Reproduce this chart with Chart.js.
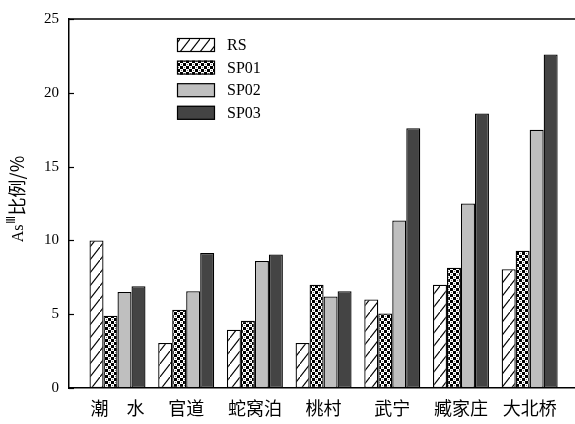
<!DOCTYPE html>
<html>
<head>
<meta charset="utf-8">
<script src="https://cdn.jsdelivr.net/npm/chart.js@4"></script>
<style>
  html, body { margin: 0; padding: 0; background: #fff; }
  #wrap { width: 575px; height: 424px; }
</style>
</head>
<body>
<div id="wrap"><canvas id="c" width="575" height="424"></canvas></div>
<script>
// Sampling sites along the x axis
const categories = ['潮　水', '官道', '蛇窝泊', '桃村', '武宁', '臧家庄', '大北桥'];

// As(III) share (%) per site for each treatment
const seriesNames = ['RS', 'SP01', 'SP02', 'SP03'];
const rsValues   = [10.0, 3.05, 3.95, 3.05, 6.0, 7.0, 8.05];
const sp01Values = [4.9, 5.3, 4.55, 7.0, 5.05, 8.15, 9.3];
const sp02Values = [6.5, 6.55, 8.6, 6.2, 11.35, 12.5, 17.5];
const sp03Values = [6.9, 9.15, 9.05, 6.55, 17.6, 18.6, 22.6];

const yTicks = [0, 5, 10, 15, 20, 25];

// Fill patterns
function hatchPattern() {
  const t = document.createElement('canvas');
  t.width = 10; t.height = 13;
  const g = t.getContext('2d');
  g.fillStyle = '#fff';
  g.fillRect(0, 0, 10, 13);
  g.strokeStyle = '#000';
  g.lineWidth = 1.1;
  g.beginPath();
  g.moveTo(-1, 14.3); g.lineTo(11, -1.3);
  g.stroke();
  return g.createPattern(t, 'repeat');
}
function checkPattern() {
  const t = document.createElement('canvas');
  t.width = 6; t.height = 6;
  const g = t.getContext('2d');
  g.fillStyle = '#fff';
  g.fillRect(0, 0, 6, 6);
  g.fillStyle = '#000';
  g.fillRect(0, 0, 3, 3);
  g.fillRect(3, 3, 3, 3);
  g.fillStyle = '#777';
  g.fillRect(1, 4, 1, 1);
  g.fillRect(4, 1, 1, 1);
  return g.createPattern(t, 'repeat');
}

const fills = [hatchPattern(), checkPattern(), '#bfbfbf', '#444444'];
const allValues = [rsValues, sp01Values, sp02Values, sp03Values];

const datasets = allValues.map((vals, k) => ({
  label: seriesNames[k],
  data: vals.map((v, i) => ({ x: i, y: v })),
  backgroundColor: fills[k],
  borderColor: '#000',
  borderWidth: 1.3,
  borderSkipped: false,
  categoryPercentage: 0.815,
  barPercentage: 1.0
}));

// Frame, inward y ticks, y title and legend
const decor = {
  id: 'decor',
  afterDatasetsDraw(chart) {
    const ctx = chart.ctx;
    const a = chart.chartArea;
    const ys = chart.scales.y;
    ctx.save();
    ctx.strokeStyle = '#000';
    ctx.lineWidth = 1.5;
    // top frame line
    ctx.beginPath();
    ctx.moveTo(a.left, a.top);
    ctx.lineTo(a.right, a.top);
    ctx.stroke();
    // inward tick marks
    ctx.lineWidth = 1.2;
    yTicks.forEach(v => {
      const py = Math.round(ys.getPixelForValue(v)) + 0.5;
      ctx.beginPath();
      ctx.moveTo(a.left, py);
      ctx.lineTo(a.left + 5, py);
      ctx.stroke();
    });

    // y axis title: As^III 比例/%
    ctx.translate(17, 199);
    ctx.rotate(-Math.PI / 2);
    ctx.fillStyle = '#000';
    ctx.textBaseline = 'middle';
    const p1 = 'As', p2 = 'Ⅲ', p3 = '比例/%';
    ctx.font = '16px "Liberation Serif"';
    const w1 = ctx.measureText(p1).width;
    ctx.font = '12px "Liberation Serif"';
    const w2 = ctx.measureText(p2).width + 1;
    ctx.font = '18px "Noto Sans CJK SC"';
    const w3 = ctx.measureText(p3).width;
    let x = -(w1 + w2 + w3) / 2;
    ctx.font = '16px "Liberation Serif"';
    ctx.fillText(p1, x, 2); x += w1;
    ctx.font = '12px "Liberation Serif"';
    ctx.fillText(p2, x, -5); x += w2;
    ctx.font = '18px "Noto Sans CJK SC"';
    ctx.fillText(p3, x, 0);
    ctx.restore();

    // legend
    ctx.save();
    const lx = a.left + 108, ly = a.top + 19, step = 22.6;
    chart.data.datasets.forEach((ds, k) => {
      const y = ly + k * step;
      ctx.fillStyle = ds.backgroundColor;
      ctx.fillRect(lx, y, 38, 14);
      ctx.strokeStyle = '#000';
      ctx.lineWidth = 1.2;
      ctx.strokeRect(lx + 0.5, y + 0.5, 37, 13);
      ctx.fillStyle = '#000';
      ctx.font = '16px "Liberation Serif"';
      ctx.textBaseline = 'middle';
      ctx.fillText(ds.label, lx + 50, y + 8);
    });
    ctx.restore();
  }
};

new Chart(document.getElementById('c'), {
  type: 'bar',
  data: { datasets },
  options: {
    responsive: false,
    animation: false,
    layout: { padding: { top: 13, right: 0, left: 0, bottom: 0 } },
    plugins: {
      legend: { display: false },
      tooltip: { enabled: false }
    },
    scales: {
      x: {
        type: 'linear',
        min: -0.706,
        max: 6.66,
        offset: false,
        grid: { display: false, drawTicks: false },
        border: { display: true, color: '#000', width: 1.5 },
        afterFit(s) { s.height = 36; },
        afterBuildTicks(s) { s.ticks = categories.map((_, i) => ({ value: i })); },
        ticks: {
          autoSkip: false,
          includeBounds: false,
          maxRotation: 0,
          padding: 9,
          color: '#000',
          font: { family: '"Noto Sans CJK SC"', size: 18 },
          callback: v => (Number.isInteger(v) && categories[v] !== undefined) ? categories[v] : ''
        }
      },
      y: {
        min: 0,
        max: 25,
        grid: { display: false, drawTicks: false },
        border: { display: true, color: '#000', width: 1.5 },
        afterFit(s) { s.width = 69; },
        ticks: {
          stepSize: 5,
          padding: 10,
          color: '#000',
          font: { family: '"Liberation Serif"', size: 15 }
        }
      }
    }
  },
  plugins: [decor]
});
</script>
</body>
</html>
